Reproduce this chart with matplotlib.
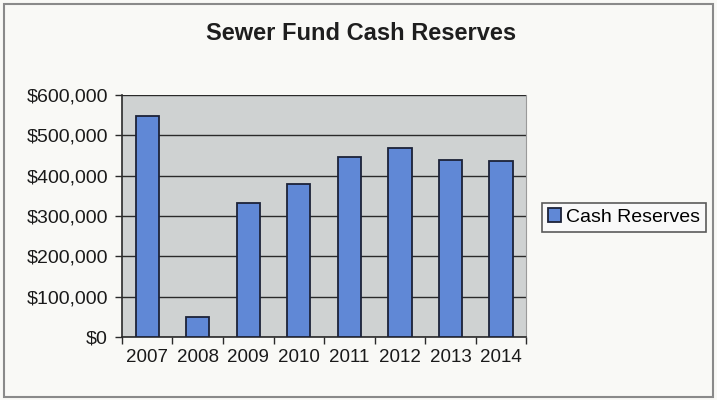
import matplotlib.pyplot as plt
from matplotlib.ticker import FuncFormatter, FixedLocator
from matplotlib.patches import Rectangle

years = ['2007', '2008', '2009', '2010', '2011', '2012', '2013', '2014']
reserves = [548000, 50000, 333000, 379000, 446000, 469000, 439000, 437000]
y_ticks = [0, 100000, 200000, 300000, 400000, 500000, 600000]

plt.rcParams['font.family'] = ['Liberation Sans', 'DejaVu Sans']

fig = plt.figure(figsize=(7.17, 4.0), dpi=100, facecolor='#f9f9f6')
# thin grey frame around the whole chart
fig.patches.append(Rectangle((0.005, 0.008), 0.99, 0.982, transform=fig.transFigure,
                             fill=False, edgecolor='#8a8a8a', linewidth=1.5))

ax = fig.add_axes([0.170, 0.1575, 0.564, 0.605])
ax.set_facecolor('#cfd2d2')

x = range(len(years))
bars = ax.bar(x, reserves, width=0.46, color='#6088d6', edgecolor='#1c2238',
              linewidth=1.3, zorder=3, label='Cash Reserves')

ax.set_xlim(-0.5, len(years) - 0.5)
ax.set_ylim(0, 600000)
ax.set_yticks(y_ticks)
ax.yaxis.set_major_formatter(FuncFormatter(lambda v, p: f'${v:,.0f}'))
ax.grid(axis='y', color='#2a2a2a', linewidth=1.0, zorder=1)

# year labels centred under bars, tick marks on the category boundaries
ax.set_xticks(list(x))
ax.set_xticklabels(years, fontsize=13.5, color='#1a1a1a')
ax.tick_params(axis='x', which='major', length=0, pad=9)
ax.xaxis.set_minor_locator(FixedLocator([i - 0.5 for i in range(len(years) + 1)]))
ax.tick_params(axis='x', which='minor', length=5, width=1, color='#2a2a2a', direction='out')
ax.tick_params(axis='y', length=5, width=1, color='#2a2a2a', labelsize=14,
               labelcolor='#1a1a1a', pad=5)

for side in ['left', 'bottom']:
    ax.spines[side].set_color('#2a2a2a')
    ax.spines[side].set_linewidth(1.2)
ax.spines['top'].set_visible(False)
ax.spines['right'].set_color('#9a9a9a')

fig.text(0.503, 0.917, 'Sewer Fund Cash Reserves', ha='center', va='center',
         fontsize=17, fontweight='bold', color='#1e1e1e')

leg = fig.legend(handles=[bars], labels=['Cash Reserves'], loc='center left',
                 bbox_to_anchor=(0.756, 0.457), fontsize=14, frameon=True,
                 fancybox=False, handlelength=0.7, handleheight=0.7,
                 handletextpad=0.25, borderpad=0.3, borderaxespad=0)
leg.get_frame().set_edgecolor('#333333')
leg.get_frame().set_facecolor('#fafafa')
leg.get_frame().set_linewidth(1.2)

fig.savefig('out.png', dpi=100, facecolor=fig.get_facecolor())
